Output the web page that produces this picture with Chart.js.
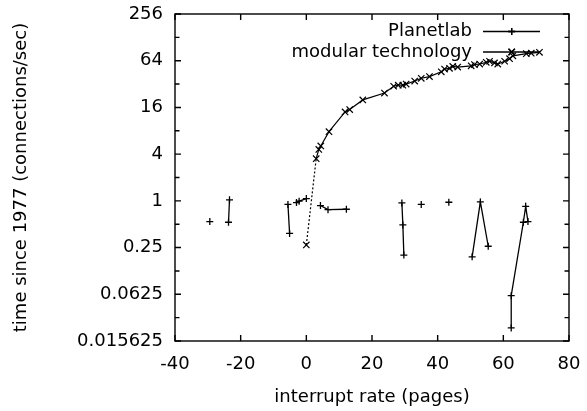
<!DOCTYPE html>
<html>
<head>
<meta charset="utf-8">
<script src="https://cdn.jsdelivr.net/npm/chart.js"></script>
<style>
  html, body { margin: 0; padding: 0; background: #fff; }
  #wrap { width: 587px; height: 411px; }
</style>
</head>
<body>
<div id="wrap"><canvas id="chart"></canvas></div>
<script>
// axis ticks
var xTicks = [-40, -20, 0, 20, 40, 60, 80];
var yTicks = [0.015625, 0.03125, 0.0625, 0.125, 0.25, 0.5, 1, 2, 4, 8, 16, 32, 64, 128, 256];
var yLabels = ['0.015625', '', '0.0625', '', '0.25', '', '1', '', '4', '', '16', '', '64', '', '256'];

var seriesNames = ['Planetlab', 'modular technology'];

// Planetlab, null = break in the line
var planetX = [-29.4, null, -23.7, -23.4, null, -5.6, -5.1, null, -3.0, -2.2, 0.0, null,
               4.3, 6.6, 12.2, null, 29.1, 29.4, 29.7, null, 35.0, null, 43.4, null,
               50.5, 53.0, 55.4, null, 62.4, 62.4, 66.1, 66.8, 67.5];
var planetY = [0.54, null, 0.53, 1.03, null, 0.9, 0.38, null, 0.95, 0.99, 1.07, null,
               0.87, 0.77, 0.78, null, 0.94, 0.49, 0.20, null, 0.9, null, 0.96, null,
               0.19, 0.97, 0.26, null, 0.023, 0.06, 0.53, 0.85, 0.54];

// modular technology
var modularX = [0.0, 3.0, 3.8, 4.4, 6.9, 11.8, 13.2, 17.2, 23.8, 26.6, 28.0, 29.4, 30.4,
                33.0, 35.0, 37.5, 41.1, 42.1, 43.6, 44.6, 46.1, 50.2, 51.2, 52.8, 54.8,
                55.8, 57.3, 58.3, 60.4, 61.9, 62.9, 67.0, 68.5, 71.0];
var modularY = [0.27, 3.5, 4.6, 5.1, 7.8, 14, 15, 20, 24.5, 30, 31, 31, 32,
                35, 38, 40, 46, 50, 51, 54, 53, 55, 57, 58, 61,
                63, 60, 58, 63, 68, 74, 79, 80, 82];

function toPoints(xs, ys) {
  var out = [];
  for (var i = 0; i < xs.length; i++) {
    out.push({ x: xs[i] === null ? NaN : xs[i], y: ys[i] === null ? NaN : ys[i] });
  }
  return out;
}

var FONT = { family: 'DejaVu Sans', size: 18 };

// box round the plot with inward ticks, like gnuplot
var framePlugin = {
  id: 'frame',
  afterDatasetsDraw: function(chart) {
    var ctx = chart.ctx, a = chart.chartArea;
    var xs = chart.scales.x, ys = chart.scales.y;
    ctx.save();
    ctx.strokeStyle = '#000';
    ctx.lineWidth = 1.4;
    ctx.strokeRect(a.left, a.top, a.right - a.left, a.bottom - a.top);
    ctx.beginPath();
    xTicks.forEach(function(v) {
      var p = xs.getPixelForValue(v);
      ctx.moveTo(p, a.bottom); ctx.lineTo(p, a.bottom - 6);
      ctx.moveTo(p, a.top); ctx.lineTo(p, a.top + 6);
    });
    yTicks.forEach(function(v, i) {
      var p = ys.getPixelForValue(v);
      var l = yLabels[i] ? 6 : 4.5;
      ctx.moveTo(a.left, p); ctx.lineTo(a.left + l, p);
      ctx.moveTo(a.right, p); ctx.lineTo(a.right - l, p);
    });
    ctx.stroke();
    ctx.restore();
  }
};

// key in the top right corner: text, then sample line with marker
var keyPlugin = {
  id: 'key',
  afterDraw: function(chart) {
    var ctx = chart.ctx;
    var rows = [31.5, 52];
    ctx.save();
    ctx.font = FONT.size + 'px ' + FONT.family;
    ctx.fillStyle = '#000';
    ctx.strokeStyle = '#000';
    ctx.textAlign = 'right';
    ctx.textBaseline = 'middle';
    chart.data.datasets.forEach(function(ds, i) {
      var y = rows[i];
      ctx.fillText(seriesNames[i], 472, y);
      ctx.lineWidth = 1.3;
      ctx.beginPath();
      ctx.moveTo(483, y); ctx.lineTo(540, y);
      ctx.stroke();
      Chart.helpers.drawPoint(ctx, { pointStyle: ds.pointStyle, radius: ds.pointRadius, borderWidth: 1.3 }, 511.7, y);
      ctx.stroke();
    });
    ctx.restore();
  }
};

new Chart(document.getElementById('chart'), {
  type: 'scatter',
  data: {
    datasets: [{
      label: seriesNames[0],
      data: toPoints(planetX, planetY),
      showLine: true,
      spanGaps: false,
      borderColor: '#000',
      backgroundColor: '#000',
      borderWidth: 1.3,
      pointStyle: 'cross',
      pointRadius: 3.5,
      pointBorderWidth: 1.3
    }, {
      label: seriesNames[1],
      data: toPoints(modularX, modularY),
      showLine: true,
      borderColor: '#000',
      backgroundColor: '#000',
      borderWidth: 1.2,
      pointStyle: 'crossRot',
      pointRadius: 4.5,
      pointBorderWidth: 1.2,
      segment: {
        borderDash: function(c) { return c.p0DataIndex === 0 ? [2, 2] : undefined; }
      }
    }]
  },
  options: {
    responsive: true,
    maintainAspectRatio: false,
    animation: false,
    layout: { padding: { top: 14, right: 18, left: 0, bottom: 0 } },
    plugins: {
      legend: { display: false },
      tooltip: { enabled: false }
    },
    scales: {
      x: {
        type: 'linear',
        min: -40,
        max: 80,
        afterBuildTicks: function(s) { s.ticks = xTicks.map(function(v) { return { value: v }; }); },
        afterFit: function(s) { s.height = 70; s.paddingLeft = 0; s.paddingRight = 0; },
        grid: { display: false, drawTicks: false },
        border: { display: false },
        ticks: { color: '#000', font: FONT, padding: 13, maxRotation: 0 },
        title: { display: true, text: 'interrupt rate (pages)', color: '#000', font: FONT, padding: { top: 0, bottom: 3 } }
      },
      y: {
        type: 'logarithmic',
        min: 0.015625,
        max: 256,
        afterBuildTicks: function(s) { s.ticks = yTicks.map(function(v) { return { value: v }; }); },
        afterFit: function(s) { s.width = 175; s.paddingTop = 0; s.paddingBottom = 0; },
        grid: { display: false, drawTicks: false },
        border: { display: false },
        ticks: {
          color: '#000', font: FONT, padding: 12, autoSkip: false,
          callback: function(v, i) { return yLabels[i]; }
        },
        title: { display: true, text: 'time since 1977 (connections/sec)', color: '#000', font: FONT, padding: { top: 11, bottom: 0 } }
      }
    }
  },
  plugins: [framePlugin, keyPlugin]
});
</script>
</body>
</html>
